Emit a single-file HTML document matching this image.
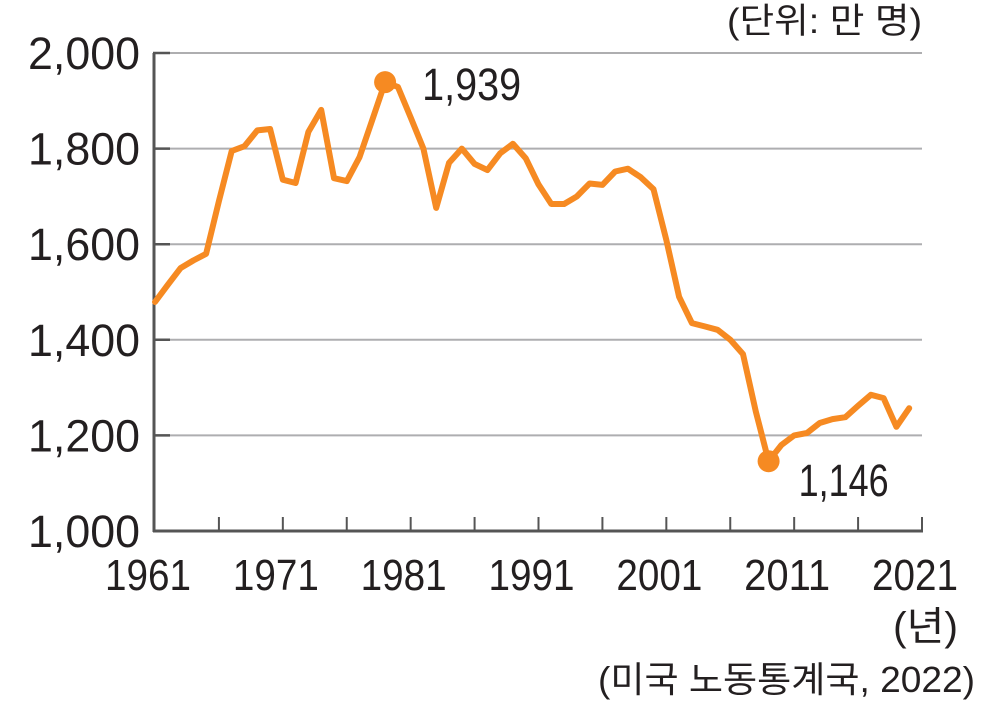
<!DOCTYPE html>
<html><head><meta charset="utf-8">
<style>
html,body{margin:0;padding:0;background:#fff;}
svg{display:block;}
text{font-family:"Liberation Sans","Noto Sans CJK KR",sans-serif;fill:#231f20;}
</style></head>
<body>
<svg id="chart" width="983" height="711" viewBox="0 0 983 711" xmlns="http://www.w3.org/2000/svg">
<g id="grid"></g>
<g id="axes"></g>
<g id="series"></g>
<g id="labels"></g>
<text x="727" y="33" font-size="35" textLength="195" lengthAdjust="spacingAndGlyphs">(단위: 만 명)</text>
<text x="893" y="640" font-size="40" textLength="65" lengthAdjust="spacingAndGlyphs">(년)</text>
<text x="598" y="692" font-size="36" textLength="377" lengthAdjust="spacingAndGlyphs">(미국 노동통계국, 2022)</text>
</svg>
<script>
const years = [1961,1962,1963,1964,1965,1966,1967,1968,1969,1970,1971,1972,1973,1974,1975,1976,1977,1978,1979,1980,1981,1982,1983,1984,1985,1986,1987,1988,1989,1990,1991,1992,1993,1994,1995,1996,1997,1998,1999,2000,2001,2002,2003,2004,2005,2006,2007,2008,2009,2010,2011,2012,2013,2014,2015,2016,2017,2018,2019,2020];
const values = [1479,1515,1550,1566,1580,1690,1795,1805,1838,1841,1735,1728,1835,1881,1738,1732,1782,1860,1939,1929,1865,1800,1676,1770,1800,1768,1755,1790,1810,1780,1725,1684,1684,1700,1727,1724,1752,1758,1740,1715,1609,1490,1435,1428,1421,1400,1370,1250,1146,1180,1200,1205,1226,1234,1238,1262,1285,1278,1218,1257];
const yTicks = [1000,1200,1400,1600,1800,2000];
const yTickLabels = ["1,000","1,200","1,400","1,600","1,800","2,000"];
const xLabelYears = [1961,1971,1981,1991,2001,2011,2021];
const highlightYears = [1979,2009];
const highlightLabels = ["1,939","1,146"];

const NS="http://www.w3.org/2000/svg";
const X0=155, X1=922, Y0=531, Y1=53;
function xs(y){return X0+(y-1961)*(X1-X0)/60;}
function ys(v){return Y0-(v-1000)*(Y0-Y1)/1000;}
function mk(tag,attrs,parent){const e=document.createElementNS(NS,tag);for(const k in attrs)e.setAttribute(k,attrs[k]);parent.appendChild(e);return e;}
const grid=document.getElementById('grid'),axes=document.getElementById('axes'),series=document.getElementById('series'),labels=document.getElementById('labels');

yTicks.forEach((t,i)=>{
  if(t>1000){
    const g=mk('line',{x1:153,x2:922,y1:ys(t),y2:ys(t),stroke:'#aeaeb0','stroke-width':2},grid);
    
    
    const tk=mk('line',{x1:153,x2:170,y1:ys(t),y2:ys(t),stroke:'#555','stroke-width':2.5},axes);
    
    
  }
  const l=mk('text',{x:28,y:ys(t)+16,'font-size':45,textLength:112,lengthAdjust:'spacingAndGlyphs'},labels);
  l.textContent=yTickLabels[i];
  
  
});
const ya=mk('line',{x1:154,x2:154,y1:53,y2:532,stroke:'#555','stroke-width':3},axes);


const xa=mk('line',{x1:153,x2:923,y1:531,y2:531,stroke:'#555','stroke-width':3},axes);


for(let y=1966;y<=2021;y+=5){
  const tk=mk('line',{x1:xs(y),x2:xs(y),y1:517,y2:531,stroke:'#555','stroke-width':2},axes);
  
  
}
xLabelYears.forEach(y=>{
  const l=mk('text',{x:xs(y)-50,y:590,'font-size':44,textLength:86,lengthAdjust:'spacingAndGlyphs'},labels);
  l.textContent=y;
  
  
});
const pts=years.map((y,i)=>xs(y).toFixed(1)+','+ys(values[i]).toFixed(1)).join(' ');
const pl=mk('polyline',{points:pts,fill:'none',stroke:'#f68a22','stroke-width':6,'stroke-linejoin':'round','stroke-linecap':'round'},series);


highlightYears.forEach((y,i)=>{
  const v=values[years.indexOf(y)];
  const c=mk('circle',{cx:xs(y),cy:ys(v),r:11,fill:'#f68a22'},series);
  
  
  const l=mk('text',{x:xs(y)+(i===0?37:30),y:ys(v)+(i===0?18:35),'font-size':45,textLength:(i===0?99:90),lengthAdjust:'spacingAndGlyphs'},labels);
  l.textContent=highlightLabels[i];
  
  
});
</script>
</body></html>
